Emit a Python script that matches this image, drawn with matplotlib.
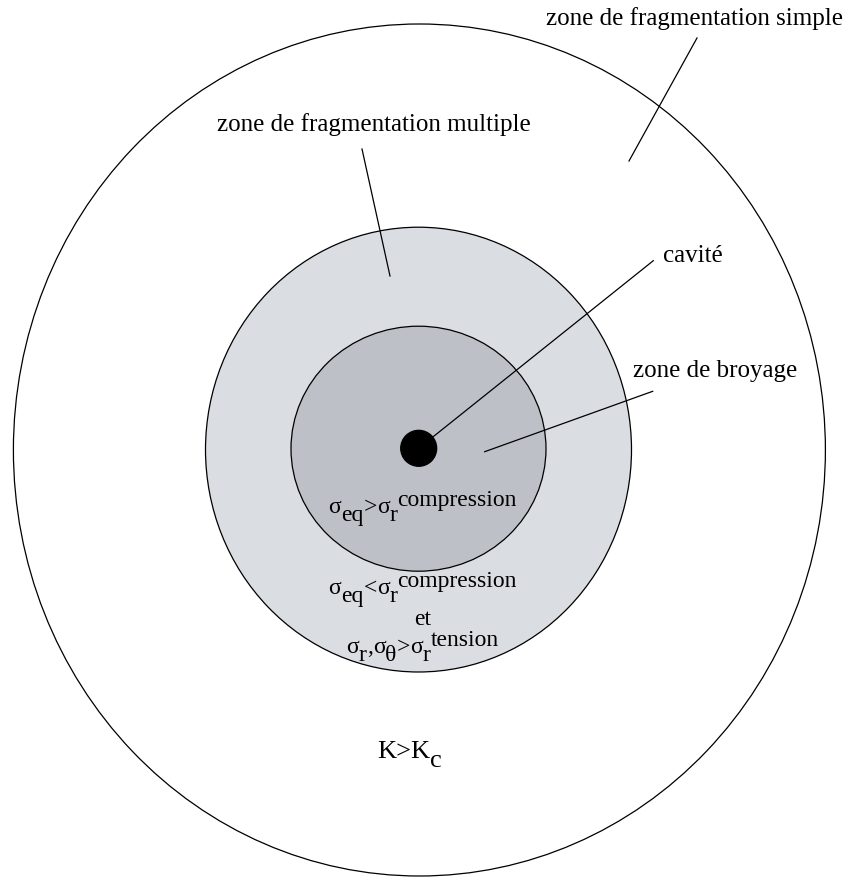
import matplotlib
matplotlib.use('Agg')
import matplotlib.pyplot as plt
from matplotlib.patches import Ellipse

plt.rcParams['font.family'] = ['Liberation Serif', 'DejaVu Serif']

W, H = 848, 878

# concentric zones, outermost first (pixel units of the picture)
zone_names = ['fragmentation simple', 'fragmentation multiple', 'broyage', 'cavite']
zone_cx = [419.4, 418.5, 418.5, 418.7]
zone_cy = [451.0, 450.6, 449.7, 449.3]
zone_rx = [406.0, 213.0, 127.5, 18.0]
zone_ry = [426.0, 222.4, 122.5, 18.0]
zone_fill = ['white', '#dadde2', '#bdc1c7', 'black']

# zone labels with their leader lines
labels = ['zone de fragmentation simple', 'zone de fragmentation multiple', 'cavité', 'zone de broyage']
label_x = [843, 374, 663, 633]
label_y = [25, 131, 262, 377]
label_ha = ['right', 'center', 'left', 'left']
lead_x0 = [697, 362, 418.7, 484.7]
lead_y0 = [39, 150, 449.3, 452.7]
lead_x1 = [629, 390, 653.3, 652.7]
lead_y1 = [162, 277, 261.7, 392.3]

# stress criteria, pieces as (text, level) : 0 base, -1 sub, 1 super
crit_1 = [('σ', 0), ('eq', -1), ('>', 0), ('σ', 0), ('r', -1), ('compression', 1)]
crit_2 = [('σ', 0), ('eq', -1), ('<', 0), ('σ', 0), ('r', -1), ('compression', 1)]
crit_3 = [('et', 0)]
crit_4 = [('σ', 0), ('r', -1), (',', 0), ('σ', 0), ('θ', -1), ('>', 0),
          ('σ', 0), ('r', -1), ('tension', 1)]
crit_5 = [('K>K', 0), ('c', -1)]
crit_list = [crit_1, crit_2, crit_3, crit_4, crit_5]
crit_x = [422.5, 422.5, 423, 422.5, 409.5]
crit_y = [513, 594, 625, 653, 758]
crit_size = [17, 17, 17, 17, 19]

fig = plt.figure(figsize=(W/100, H/100), dpi=100)
ax = fig.add_axes([0, 0, 1, 1])
ax.set_xlim(0, W)
ax.set_ylim(H, 0)
ax.axis('off')

for i in range(len(zone_names)):
    e = Ellipse((zone_cx[i], zone_cy[i]), 2*zone_rx[i], 2*zone_ry[i],
                facecolor=zone_fill[i], edgecolor='black', lw=0.9, zorder=1+i)
    ax.add_patch(e)

for i in range(len(labels)):
    ax.text(label_x[i], label_y[i], labels[i], fontsize=18, ha=label_ha[i], va='baseline', zorder=10)
    z = 3 if i == 2 else 10  # cavity line starts under the black disk
    ax.plot([lead_x0[i], lead_x1[i]], [lead_y0[i], lead_y1[i]], color='black', lw=0.9, zorder=z)

renderer = fig.canvas.get_renderer()

def rich_text(parts, cx, base, size):
    arts, widths = [], []
    for s, lvl in parts:
        t = ax.text(0, 0, s, fontsize=size, ha='left', va='baseline', zorder=10)
        widths.append(t.get_window_extent(renderer).width)
        arts.append(t)
    em = size*100/72
    x = cx - sum(widths)/2
    for t, w, (s, lvl) in zip(arts, widths, parts):
        shift = {0: 0, -1: -0.33*em, 1: 0.3*em}[lvl]
        t.set_position((x, base - shift))
        x += w

for i in range(len(crit_list)):
    rich_text(crit_list[i], crit_x[i], crit_y[i], crit_size[i])

fig.savefig('out.png', dpi=100)
